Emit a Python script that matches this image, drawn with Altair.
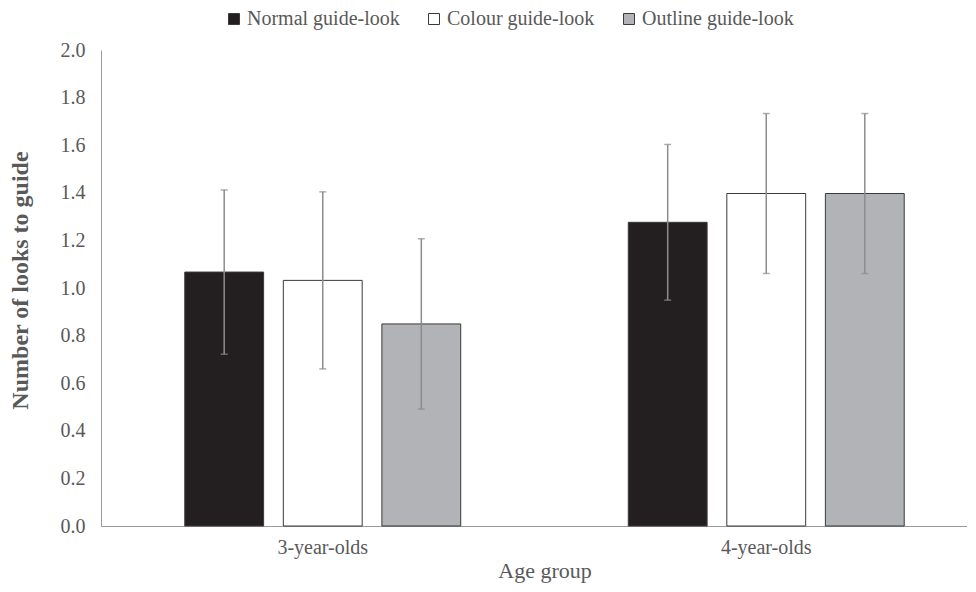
import altair as alt
import pandas as pd

groups = ["3-year-olds", "3-year-olds", "3-year-olds", "4-year-olds", "4-year-olds", "4-year-olds"]
conditions = ["Normal guide-look", "Colour guide-look", "Outline guide-look"] * 2
means = [1.067, 1.032, 0.849, 1.276, 1.397, 1.397]
errors = [0.345, 0.372, 0.358, 0.327, 0.336, 0.336]

cond_order = ["Normal guide-look", "Colour guide-look", "Outline guide-look"]
fills = ["#231f20", "#ffffff", "#b2b3b6"]

df = pd.DataFrame({"group": groups, "cond": conditions, "mean": means, "err": errors})
df["lo"] = df["mean"] - df["err"]
df["hi"] = df["mean"] + df["err"]

FONT = "Liberation Serif"
GREY = "#595959"

x = alt.X("group:N", scale=alt.Scale(range=[0, 887], paddingInner=0, paddingOuter=0),
          axis=alt.Axis(title="Age group", labelAngle=0, ticks=False, labelPadding=11,
                        titlePadding=3, labelFontSize=20, titleFontSize=22,
                        labelFont=FONT, titleFont=FONT, labelColor=GREY, titleColor=GREY,
                        titleFontWeight="normal", domainColor="#9a9a9a"))
xo = alt.XOffset("cond:N", sort=cond_order,
                 scale=alt.Scale(paddingInner=0.2, paddingOuter=0.85))

base = alt.Chart(df)

bars = base.mark_bar(stroke="#3a3a3a", strokeWidth=1).encode(
    x=x,
    xOffset=xo,
    y=alt.Y("mean:Q", scale=alt.Scale(domain=[0, 2]),
            axis=alt.Axis(title="Number of looks to guide",
                          values=[0, 0.2, 0.4, 0.6, 0.8, 1.0, 1.2, 1.4, 1.6, 1.8, 2.0],
                          format=".1f", grid=False, ticks=False, labelPadding=16,
                          titlePadding=28, titleY=230, labelFontSize=20, titleFontSize=24,
                          labelFont=FONT, titleFont=FONT, labelColor=GREY, titleColor=GREY,
                          titleFontWeight="bold", domainColor="#9a9a9a")),
    fill=alt.Fill("cond:N", sort=cond_order,
                  scale=alt.Scale(domain=cond_order, range=fills),
                  legend=alt.Legend(title=None, orient="none", direction="horizontal",
                                    legendX=123, legendY=-41, symbolType="square",
                                    symbolSize=121, symbolStrokeColor="#3a3a3a",
                                    symbolStrokeWidth=1, labelFontSize=20,
                                    labelColor=GREY, labelFont=FONT, columnPadding=24,
                                    labelOffset=3)),
)

rules = base.mark_rule(color="#8c8c8c", strokeWidth=1.5).encode(
    x=x, xOffset=xo, y="lo:Q", y2="hi:Q"
)

caps_hi = base.mark_tick(color="#8c8c8c", thickness=1.5, size=7, orient="horizontal").encode(
    x=x, xOffset=xo, y="hi:Q"
)
caps_lo = base.mark_tick(color="#8c8c8c", thickness=1.5, size=7, orient="horizontal").encode(
    x=x, xOffset=xo, y="lo:Q"
)

chart = alt.layer(bars, rules, caps_hi, caps_lo).properties(
    width=866, height=476,
    autosize=alt.AutoSizeParams(type="none"),
    padding={"left": 93, "top": 42, "right": 0, "bottom": 58},
).configure_view(stroke=None)

chart.save("out.html", embed_options={"renderer": "svg", "actions": False})
